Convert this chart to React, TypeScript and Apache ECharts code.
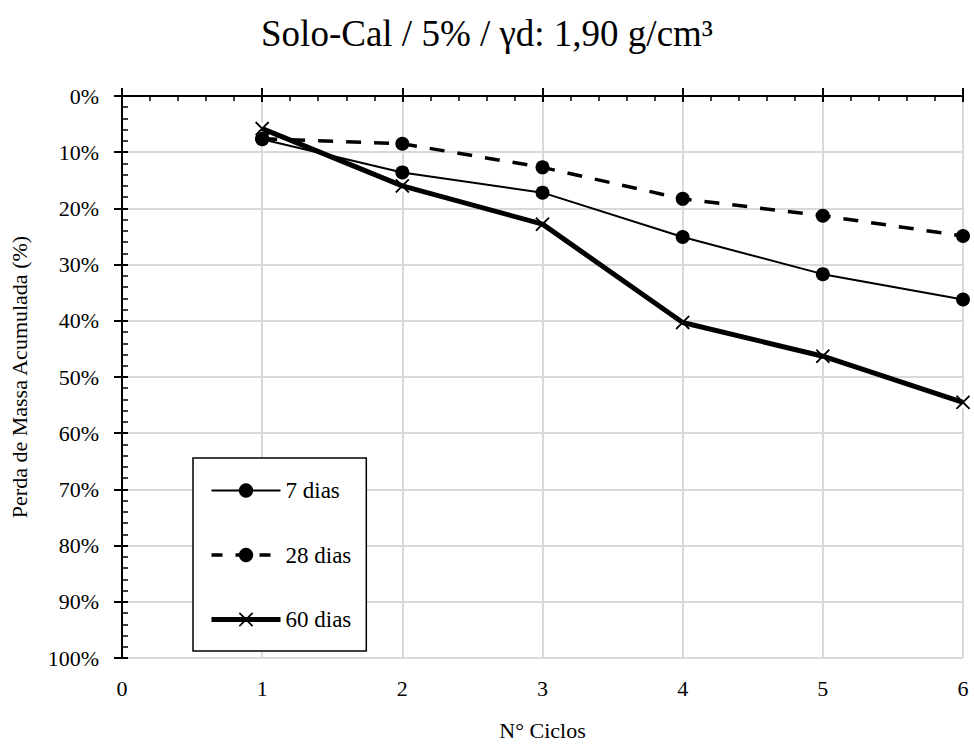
import React, { useEffect, useRef } from 'react';
import * as echarts from 'echarts';

const titleText = 'Solo-Cal / 5% / γd: 1,90 g/cm³';
const xAxisName = 'N° Ciclos';
const yAxisName = 'Perda de Massa Acumulada (%)';
const cycles = [1, 2, 3, 4, 5, 6];
const seriesNames = ['7 dias', '28 dias', '60 dias'];
const dias7 = [7.7, 13.6, 17.2, 25.1, 31.7, 36.2];
const dias28 = [7.6, 8.5, 12.7, 18.3, 21.3, 24.9];
const dias60 = [5.8, 16.0, 22.8, 40.3, 46.3, 54.5];

const FONT = "Times New Roman, 'Liberation Serif', 'DejaVu Serif', serif";
const CROSS = 'path://M0,8 L8,0 L50,42 L92,0 L100,8 L58,50 L100,92 L92,100 L50,58 L8,100 L0,92 L42,50 Z';

const pairs = (vals: number[]) => cycles.map((c, i) => [c, vals[i]]);

export default function App() {
  const ref = useRef<HTMLDivElement>(null);
  useEffect(() => {
    if (!ref.current) return;
    const chart = echarts.init(ref.current, undefined, { renderer: 'svg' });
    const grey = '#d9d9d9';
    const baseX = { type: 'value', min: 0, max: 6, interval: 1 };
    const baseY = { type: 'value', min: 0, max: 100, interval: 10, inverse: true };
    chart.setOption({
      animation: false,
      backgroundColor: '#fff',
      textStyle: { fontFamily: FONT, color: '#000' },
      title: {
        text: titleText,
        left: 'center',
        top: 10,
        textStyle: { fontFamily: FONT, fontSize: 37, fontWeight: 'normal', color: '#000' },
      },
      grid: { left: 121, right: 11, top: 96, bottom: 88, containLabel: false },
      legend: {
        data: [
          { name: seriesNames[0], lineStyle: { width: 2 } },
          { name: seriesNames[1], lineStyle: { width: 3.5, type: [11, 13] } },
          { name: seriesNames[2], lineStyle: { width: 5 } },
        ],
        orient: 'vertical',
        left: 193,
        top: 458,
        itemWidth: 69,
        itemHeight: 18,
        itemGap: 41.5,
        padding: [21, 15, 20, 16],
        borderColor: '#000',
        borderWidth: 1.5,
        backgroundColor: '#fff',
        textStyle: { fontFamily: FONT, fontSize: 23, color: '#000', lineHeight: 22 },
      },
      xAxis: [
        {
          ...baseX,
          position: 'bottom',
          axisLine: { show: false, onZero: false },
          axisTick: { show: false },
          axisLabel: { fontFamily: FONT, fontSize: 22, color: '#000', margin: 19 },
          splitLine: { show: true, lineStyle: { color: grey, width: 2 } },
          name: xAxisName,
          nameLocation: 'middle',
          nameGap: 61,
          nameTextStyle: { fontFamily: FONT, fontSize: 22, color: '#000' },
        },
        {
          ...baseX,
          position: 'top',
          axisLine: { show: true, onZero: false, lineStyle: { color: '#000', width: 2 } },
          axisTick: { show: true, inside: false, length: 8, lineStyle: { color: '#000', width: 2 } },
          axisLabel: { show: false },
          splitLine: { show: false },
        },
        {
          ...baseX,
          position: 'top',
          axisLine: { show: false, onZero: false },
          axisTick: { show: true, inside: true, length: 6, lineStyle: { color: '#000', width: 2 } },
          minorTick: { show: true, splitNumber: 5, length: 5, lineStyle: { color: '#000', width: 1.5 } },
          axisLabel: { show: false },
          splitLine: { show: false },
        },
      ],
      yAxis: [
        {
          ...baseY,
          position: 'left',
          axisLine: { show: true, onZero: false, lineStyle: { color: '#000', width: 2 } },
          axisTick: { show: true, inside: false, length: 8, lineStyle: { color: '#000', width: 2 } },
          axisLabel: { fontFamily: FONT, fontSize: 22, color: '#000', margin: 23, formatter: '{value}%' },
          splitLine: { show: true, lineStyle: { color: grey, width: 2 } },
          name: yAxisName,
          nameLocation: 'middle',
          nameGap: 92,
          nameTextStyle: { fontFamily: FONT, fontSize: 22, color: '#000' },
        },
        {
          ...baseY,
          position: 'left',
          axisLine: { show: false, onZero: false },
          axisTick: { show: true, inside: true, length: 6, lineStyle: { color: '#000', width: 2 } },
          minorTick: { show: true, splitNumber: 5, length: 6, lineStyle: { color: '#000', width: 1.5 } },
          axisLabel: { show: false },
          splitLine: { show: false },
        },
      ],
      series: [
        {
          name: seriesNames[0],
          type: 'line',
          data: pairs(dias7),
          symbol: 'circle',
          symbolSize: 14,
          lineStyle: { color: '#000', width: 2 },
          itemStyle: { color: '#000' },
        },
        {
          name: seriesNames[1],
          type: 'line',
          data: pairs(dias28),
          symbol: 'circle',
          symbolSize: 14,
          lineStyle: { color: '#000', width: 3.5, type: [15, 13] },
          itemStyle: { color: '#000' },
        },
        {
          name: seriesNames[2],
          type: 'line',
          data: pairs(dias60),
          symbol: CROSS,
          symbolSize: 14,
          lineStyle: { color: '#000', width: 5 },
          itemStyle: { color: '#000' },
        },
        {
          name: '60 dias bg',
          type: 'scatter',
          data: pairs(dias60),
          symbol: 'circle',
          symbolSize: 12,
          itemStyle: { color: '#fff' },
          silent: true,
        },
        {
          name: '60 dias x',
          type: 'scatter',
          data: pairs(dias60),
          symbol: CROSS,
          symbolSize: 14,
          itemStyle: { color: '#000' },
          silent: true,
        },
      ],
    });
    return () => chart.dispose();
  }, []);
  return (
    <div
      ref={ref}
      style={{ position: 'fixed', left: 0, top: 0, width: 974, height: 746, background: '#fff' }}
    />
  );
}
